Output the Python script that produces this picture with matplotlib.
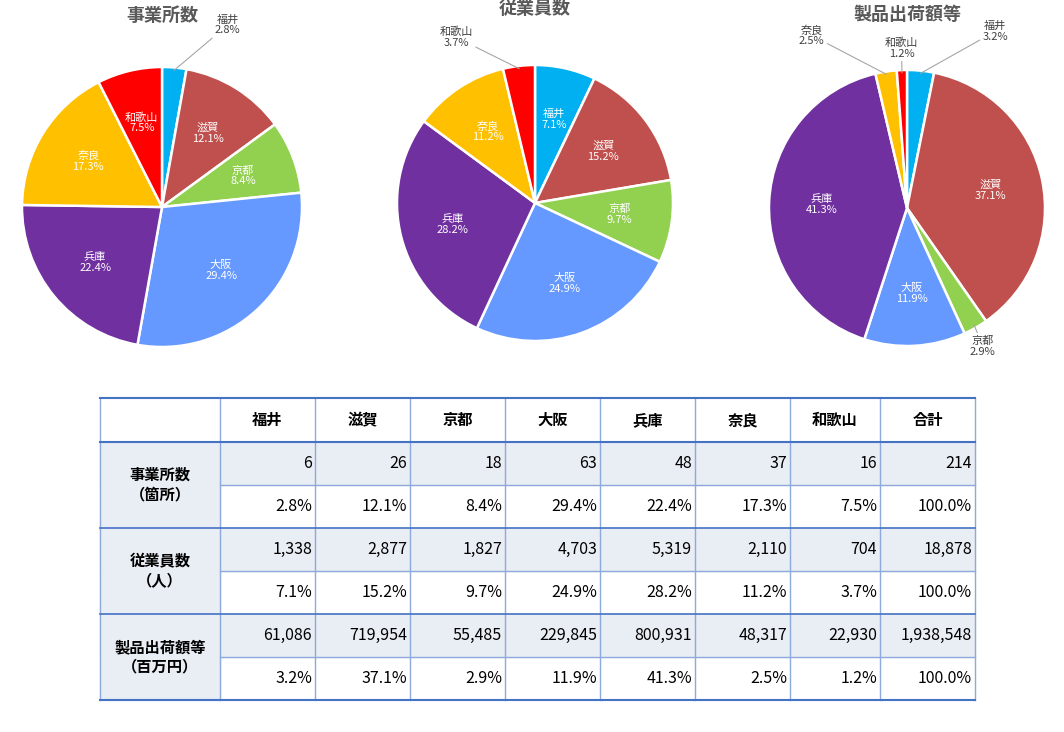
import numpy as np
import matplotlib
matplotlib.use("Agg")
import matplotlib.pyplot as plt
from matplotlib.patches import Rectangle

plt.rcParams["font.family"] = "Noto Sans CJK JP"

W, H = 1064, 732

PREFS = ["福井", "滋賀", "京都", "大阪", "兵庫", "奈良", "和歌山"]
COLORS = ["#00B0F0", "#C0504D", "#92D050", "#6699FF", "#7030A0", "#FFC000", "#FF0000"]

TITLES = ["事業所数", "従業員数", "製品出荷額等"]
ESTABLISHMENTS = [6, 26, 18, 63, 48, 37, 16]
EMPLOYEES = [1338, 2877, 1827, 4703, 5319, 2110, 704]
SHIPMENTS = [61086, 719954, 55485, 229845, 800931, 48317, 22930]
PCT_EST = [2.8, 12.1, 8.4, 29.4, 22.4, 17.3, 7.5]
PCT_EMP = [7.1, 15.2, 9.7, 24.9, 28.2, 11.2, 3.7]
PCT_SHIP = [3.2, 37.1, 2.9, 11.9, 41.3, 2.5, 1.2]
TOTALS = [214, 18878, 1938548]
ROW_LABELS = ["事業所数\n（箇所）", "従業員数\n（人）", "製品出荷額等\n（百万円）"]

# outside label positions (pie radius = 1) for small slices
OUTSIDE = [
    {0: (0.47, 1.30)},
    {6: (-0.57, 1.20)},
    {0: (0.64, 1.28), 6: (-0.04, 1.16), 5: (-0.69, 1.25), 2: (0.55, -1.0)},
]


def px_axes(fig, x, y, w, h):
    return fig.add_axes([x / W, 1 - (y + h) / H, w / W, h / H])


fig = plt.figure(figsize=(W / 100, H / 100), dpi=100)

pies = [(162, 207, 140, 15), (535, 203, 138, 8), (907, 208, 138, 15)]
values = [ESTABLISHMENTS, EMPLOYEES, SHIPMENTS]
pcts = [PCT_EST, PCT_EMP, PCT_SHIP]
for i, (cx, cy, r, ty) in enumerate(pies):
    ax = px_axes(fig, cx - r * 1.5, cy - r * 1.5, r * 3, r * 3)
    wedges, _ = ax.pie(values[i], colors=COLORS, startangle=90, counterclock=False,
                       radius=1, wedgeprops=dict(edgecolor="white", linewidth=1.8))
    ax.set_xlim(-1.5, 1.5)
    ax.set_ylim(-1.5, 1.5)
    ax.set_aspect("equal")
    ax.axis("off")
    for j, w in enumerate(wedges):
        ang = np.deg2rad((w.theta1 + w.theta2) / 2)
        txt = f"{PREFS[j]}\n{pcts[i][j]:.1f}%"
        if j in OUTSIDE[i]:
            lx, ly = OUTSIDE[i][j]
            ax.annotate(txt, xy=(np.cos(ang) * 0.98, np.sin(ang) * 0.98), xytext=(lx, ly),
                        ha="center", va="center", fontsize=8, color="#404040",
                        linespacing=1.1,
                        arrowprops=dict(arrowstyle="-", color="#A6A6A6", lw=0.8,
                                        shrinkA=0, shrinkB=0))
        else:
            ax.text(np.cos(ang) * 0.62, np.sin(ang) * 0.62, txt, ha="center", va="center",
                    fontsize=8, color="white", linespacing=1.1)
    fig.text(cx / W, 1 - ty / H, TITLES[i], ha="center", va="center",
             fontsize=13, fontweight="bold", color="#595959")

# table
tab = px_axes(fig, 0, 0, W, H)
tab.set_xlim(0, W)
tab.set_ylim(H, 0)
tab.axis("off")
xs = [100, 220, 315, 410, 505, 600, 695, 790, 880, 975]
ys = [398, 442, 485, 528, 571, 614, 657, 700]
grey = "#E9EDF4"
line = "#8EA9DB"
for g in range(3):
    y0 = ys[1 + 2 * g]
    tab.add_patch(Rectangle((xs[0], y0), xs[-1] - xs[0], ys[2] - ys[1], color=grey, zorder=0))
    tab.add_patch(Rectangle((xs[0], y0), xs[1] - xs[0], 2 * (ys[2] - ys[1]), color=grey, zorder=0))
for x in xs:
    tab.plot([x, x], [ys[0], ys[-1]], color=line, lw=1)
tab.plot([xs[0], xs[-1]], [ys[0], ys[0]], color="#4472C4", lw=1.5)
tab.plot([xs[0], xs[-1]], [ys[-1], ys[-1]], color="#4472C4", lw=1.5)
tab.plot([xs[0], xs[-1]], [ys[1], ys[1]], color="#4472C4", lw=1.5)
for k in (3, 5):
    tab.plot([xs[0], xs[-1]], [ys[k], ys[k]], color="#4472C4", lw=1.2)
for k in (2, 4, 6):
    tab.plot([xs[1], xs[-1]], [ys[k], ys[k]], color=line, lw=1)
headers = PREFS + ["合計"]
for c, h in enumerate(headers):
    tab.text((xs[c + 1] + xs[c + 2]) / 2, (ys[0] + ys[1]) / 2, h, ha="center", va="center",
             fontsize=11, fontweight="bold")
for g in range(3):
    nums = values[g] + [TOTALS[g]]
    pc = pcts[g] + [100.0]
    ya = (ys[1 + 2 * g] + ys[2 + 2 * g]) / 2
    yb = (ys[2 + 2 * g] + ys[3 + 2 * g]) / 2
    tab.text((xs[0] + xs[1]) / 2, ys[2 + 2 * g], ROW_LABELS[g], ha="center", va="center",
             fontsize=11, fontweight="bold", linespacing=1.3)
    for c in range(8):
        tab.text(xs[c + 2] - 3, ya, f"{nums[c]:,}", ha="right", va="center", fontsize=11.5)
        tab.text(xs[c + 2] - 3, yb, f"{pc[c]:.1f}%", ha="right", va="center", fontsize=11.5)

fig.savefig("out.png", dpi=100)
